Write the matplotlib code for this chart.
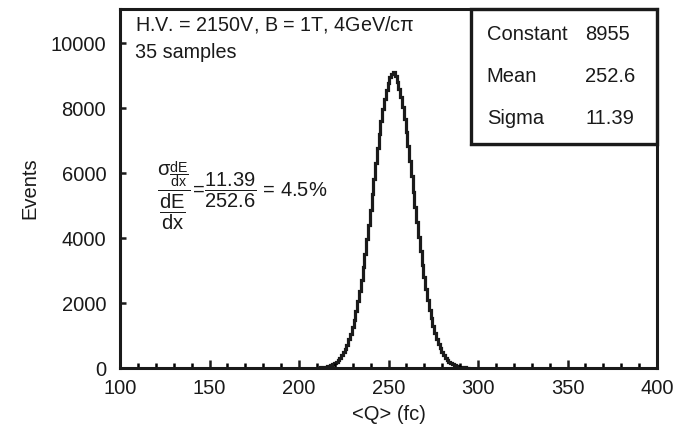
"""dE/dx charge distribution with Gaussian fit parameters."""
import matplotlib.pyplot as plt
from matplotlib.patches import Rectangle

plt.rcParams['font.family'] = ['Liberation Sans', 'DejaVu Sans']
plt.rcParams['mathtext.fontset'] = 'custom'
plt.rcParams['mathtext.rm'] = 'Liberation Sans'
plt.rcParams['mathtext.it'] = 'Liberation Sans'
plt.rcParams['mathtext.bf'] = 'Liberation Sans:bold'

# histogram (1 fc bins, first bin starts at 209.5)
counts = [8, 11, 16, 22, 30, 38, 52, 70, 90, 118,
          150, 195, 245, 310, 390, 480, 590, 720, 880, 1060,
          1260, 1490, 1760, 2050, 2380, 2720, 3110, 3520, 3960, 4400,
          4870, 5350, 5830, 6300, 6760, 7190, 7600, 7960, 8280, 8560,
          8780, 8950, 9060, 9100, 8980, 8800, 8590, 8330, 8020, 7660,
          7260, 6830, 6380, 5910, 5430, 4960, 4490, 4030, 3600, 3180,
          2790, 2430, 2100, 1800, 1530, 1300, 1090, 900, 750, 610,
          500, 400, 320, 255, 200, 157, 121, 94, 71, 54,
          41, 30, 23, 17, 12, 9]
bin_edges = [209.5 + i for i in range(len(counts) + 1)]

fit_names = ['Constant', 'Mean', 'Sigma']
fit_values = ['8955', '252.6', '11.39']

x_ticks = [100, 150, 200, 250, 300, 350, 400]
y_ticks = [0, 2000, 4000, 6000, 8000, 10000]

ink = '#1a1a1a'

fig = plt.figure(figsize=(6.89, 4.33), dpi=100)
ax = fig.add_axes([0.1742, 0.1501, 0.7794, 0.8291])

ax.stairs(counts, bin_edges, color=ink, linewidth=2.3, baseline=None)
ax.set_xlim(100, 400)
ax.set_ylim(0, 11050)
ax.set_xticks(x_ticks)
ax.set_xticks(range(110, 400, 10), minor=True)
ax.set_yticks(y_ticks)

for s in ax.spines.values():
    s.set_linewidth(2.2)
    s.set_color(ink)
ax.tick_params(axis='x', which='major', direction='in', length=6, width=1.8,
               labelsize=14.5, pad=8, colors=ink)
ax.tick_params(axis='x', which='minor', direction='in', length=3.5, width=1.8)
ax.tick_params(axis='y', which='major', direction='in', length=4, width=1.8,
               labelsize=14.5, pad=10, colors=ink)

ax.set_xlabel('<Q> (fc)', fontsize=14.5, labelpad=5, color=ink)
ax.set_ylabel('Events', fontsize=14.5, labelpad=8, color=ink)

ax.text(0.028, 0.958, 'H.V. = 2150V, B = 1T, 4GeV/c$\\pi$',
        transform=ax.transAxes, fontsize=14.2, va='center', ha='left',
        color=ink)
ax.text(0.028, 0.880, '35 samples', transform=ax.transAxes,
        fontsize=14.2, va='center', ha='left', color=ink)

ax.text(0.068, 0.48,
        r'$\dfrac{\sigma_{\dfrac{dE}{dx}}}{\dfrac{dE}{dx}}\!=\!\dfrac{11.39}{252.6}$'
        ' = 4.5%',
        transform=ax.transAxes, fontsize=14.5, va='center', ha='left',
        color=ink)

# fit result box
bx0, by0 = 0.6536, 0.624
ax.add_patch(Rectangle((bx0, by0), 1 - bx0, 1 - by0, transform=ax.transAxes,
                       fill=False, linewidth=2.4, edgecolor=ink,
                       clip_on=False))
ax.plot([bx0, 1], [by0 - 0.004, by0 - 0.004], transform=ax.transAxes,
        color=ink, linewidth=1.6, alpha=0.6, clip_on=False)
for i, (name, val) in enumerate(zip(fit_names, fit_values)):
    yy = 0.928 - i * 0.117
    ax.text(0.683, yy, name, transform=ax.transAxes, fontsize=14.5,
            va='center', ha='left', color=ink)
    ax.text(0.866, yy, val, transform=ax.transAxes, fontsize=14.5,
            va='center', ha='left', color=ink)

fig.savefig('out.png', dpi=100)
